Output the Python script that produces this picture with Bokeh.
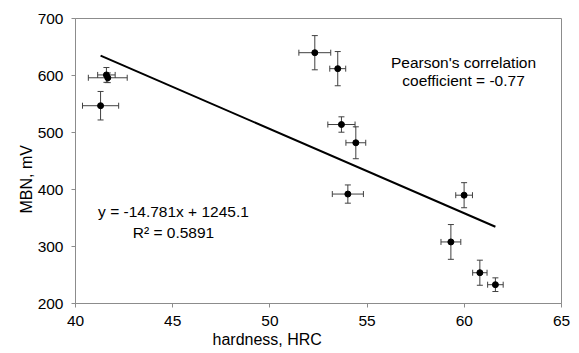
from bokeh.plotting import figure
from bokeh.models import ColumnDataSource, Whisker, TeeHead, FixedTicker, Range1d, Title
from bokeh.core.properties import value
from bokeh.embed import file_html
from bokeh.resources import INLINE

hardness = [41.59, 41.66, 41.29, 52.31, 53.49, 53.68, 54.42, 54.01, 59.99, 59.31, 60.80, 61.60]
mbn = [601, 596, 547, 640, 612, 514, 482, 392, 390, 308, 254, 233]
hardness_err = [0.45, 1.0, 0.93, 0.82, 0.41, 0.70, 0.51, 0.80, 0.43, 0.51, 0.37, 0.40]
mbn_err = [13, 8.5, 25, 30, 30, 13.5, 28, 16, 22, 30.5, 22, 12]
slope = -14.781
intercept = 1245.1
x_ticks = [40, 45, 50, 55, 60, 65]
y_ticks = [200, 300, 400, 500, 600, 700]

FONT = "Liberation Sans"
GRAY = "#8c8c8c"
FS = "15.5px"

src = ColumnDataSource(dict(
    x=hardness, y=mbn,
    xl=[a - e for a, e in zip(hardness, hardness_err)],
    xu=[a + e for a, e in zip(hardness, hardness_err)],
    yl=[a - e for a, e in zip(mbn, mbn_err)],
    yu=[a + e for a, e in zip(mbn, mbn_err)],
))

p = figure(width=579, height=353, output_backend="svg", toolbar_location=None,
           x_range=Range1d(40, 65), y_range=Range1d(200, 700),
           min_border_left=75, min_border_right=18, min_border_top=18, min_border_bottom=50)
p.grid.visible = False
p.outline_line_color = GRAY
p.outline_line_width = 1
p.background_fill_color = "white"
p.border_fill_color = "white"

for ax in (p.xaxis[0], p.yaxis[0]):
    ax.axis_line_color = GRAY
    ax.major_tick_line_color = GRAY
    ax.minor_tick_line_color = None
    ax.major_tick_out = 4
    ax.major_tick_in = 0
    ax.major_label_text_font = FONT
    ax.major_label_text_font_size = FS
    ax.major_label_text_color = "black"

p.xaxis.ticker = FixedTicker(ticks=x_ticks)
p.yaxis.ticker = FixedTicker(ticks=y_ticks)
p.xaxis.major_label_standoff = 8
p.yaxis.major_label_standoff = 8

# axis titles, placed along the axis like in the reference
p.add_layout(Title(text="hardness, HRC", align="left", offset=137, standoff=0,
                   text_font=FONT, text_font_size="16px", text_font_style="normal",
                   text_color="black"), "below")
p.add_layout(Title(text="MBN, mV", align="left", offset=90, standoff=0,
                   text_font=FONT, text_font_size="16px", text_font_style="normal",
                   text_color="black"), "left")

# trend line
xmin, xmax = min(hardness), max(hardness)
p.line([xmin, xmax], [slope * xmin + intercept, slope * xmax + intercept],
       line_color="black", line_width=2)

# error bars
p.add_layout(Whisker(source=src, base="x", lower="yl", upper="yu", dimension="height",
                     line_color="#404040", line_width=1,
                     upper_head=TeeHead(size=6, line_color="#404040", line_width=1),
                     lower_head=TeeHead(size=6, line_color="#404040", line_width=1)))
p.add_layout(Whisker(source=src, base="y", lower="xl", upper="xu", dimension="width",
                     line_color="#404040", line_width=1,
                     upper_head=TeeHead(size=6, line_color="#404040", line_width=1),
                     lower_head=TeeHead(size=6, line_color="#404040", line_width=1)))

p.scatter("x", "y", source=src, size=6, color="black")

p.text(x=[59.96, 59.96], y=[622, 591],
       text=["Pearson's correlation", "coefficient = -0.77"],
       text_font=value(FONT), text_font_size=FS, text_color="black",
       text_align="center", text_baseline="middle")
p.text(x=[45.04, 45.04], y=[361, 325],
       text=["y = -14.781x + 1245.1", "R\u00b2 = 0.5891"],
       text_font=value(FONT), text_font_size=FS, text_color="black",
       text_align="center", text_baseline="middle")

open("out.html", "w").write(file_html(p, INLINE))
